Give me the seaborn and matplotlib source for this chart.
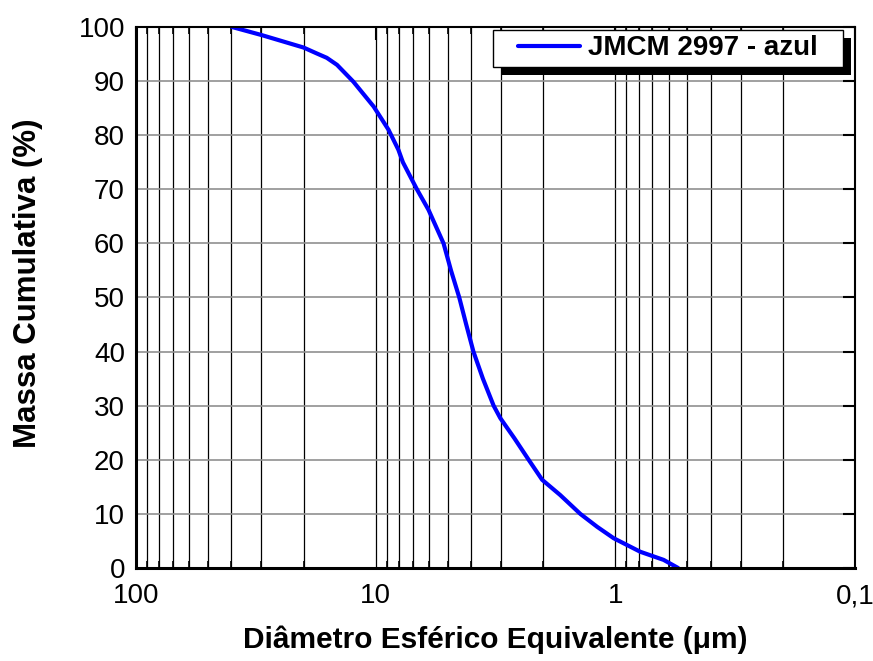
import matplotlib
matplotlib.use("Agg")
import matplotlib.pyplot as plt
import matplotlib.ticker as mticker
from matplotlib.patches import Rectangle
import seaborn as sns
import pandas as pd

# values
diametro = [39.8, 29.9, 20.0, 17.6, 16.0, 14.5, 12.4, 10.2, 8.84, 8.04, 7.70,
            6.73, 6.02, 5.21, 4.85, 4.48, 4.19, 3.91, 3.57, 3.22, 3.02, 2.64,
            2.30, 2.02, 1.70, 1.40, 1.19, 1.016, 0.787, 0.629, 0.547]
massa = [100.0, 98.5, 96.2, 95.1, 94.3, 93.0, 89.9, 85.3, 81.0, 77.3, 75.0,
         70.0, 66.2, 60.0, 55.0, 50.0, 45.0, 40.0, 35.0, 30.0, 27.7, 24.0,
         20.0, 16.3, 13.5, 10.0, 7.6, 5.5, 3.0, 1.5, 0.0]
serie = "JMCM 2997 - azul"
xticks = [100, 10, 1, 0.1]
xtick_labels = ["100", "10", "1", "0,1"]

df = pd.DataFrame({"d": diametro, "m": massa})

sns.set_style("white")
plt.rcParams["font.family"] = ["Liberation Sans", "DejaVu Sans"]
plt.rcParams["text.color"] = "black"
plt.rcParams["axes.labelcolor"] = "black"
plt.rcParams["xtick.color"] = "black"
plt.rcParams["ytick.color"] = "black"

fig = plt.figure(figsize=(8.73, 6.61), dpi=100)
ax = fig.add_axes([0.1558, 0.1407, 0.8236, 0.8185])

sns.lineplot(data=df, x="d", y="m", color="#0000ff", linewidth=3.0,
             label=serie, ax=ax, sort=False)
ax.lines[0].set_solid_joinstyle("round")

ax.set_xscale("log")
ax.set_xlim(100, 0.1)
ax.set_ylim(0, 100)
ax.set_xticks(xticks)
ax.set_xticklabels(xtick_labels)
ax.xaxis.set_minor_locator(mticker.LogLocator(base=10, subs=range(2, 10)))
ax.xaxis.set_minor_formatter(mticker.NullFormatter())
ax.set_yticks(range(0, 101, 10))

ax.grid(True, which="both", axis="x", color="black", linewidth=0.9)
ax.grid(True, which="major", axis="y", color="#909090", linewidth=1.2)
ax.set_axisbelow(True)

ax.tick_params(axis="both", which="major", direction="in", length=9, width=1.5,
               top=True, right=True, labelsize=20)
ax.tick_params(axis="y", which="major", pad=8)
ax.tick_params(axis="x", which="major", pad=11)
ax.tick_params(axis="x", which="minor", direction="in", length=5, width=1.2,
               top=True, bottom=True)

for side in ["left", "bottom"]:
    ax.spines[side].set_linewidth(2.2)
for side in ["top", "right"]:
    ax.spines[side].set_linewidth(1.5)
for sp in ax.spines.values():
    sp.set_color("black")
    sp.set_visible(True)

ax.set_xlabel("Diâmetro Esférico Equivalente (μm)", fontsize=21.5,
              fontweight="bold", labelpad=12)
ax.set_ylabel("Massa Cumulativa (%)", fontsize=22.5, fontweight="bold")
ax.yaxis.set_label_coords(-0.129, 0.527)

# legend box with a solid black drop shadow
ax.add_patch(Rectangle((0.5076, 0.9113), 0.4868, 0.0684, transform=ax.transAxes,
                       facecolor="black", edgecolor="none", zorder=5,
                       clip_on=False))
ax.add_patch(Rectangle((0.4965, 0.926), 0.4868, 0.0684, transform=ax.transAxes,
                       facecolor="white", edgecolor="black", linewidth=1.0,
                       zorder=6, clip_on=False))
leg = ax.legend(loc="center", bbox_to_anchor=(0.7399, 0.9603), frameon=False,
                prop={"weight": "bold", "size": 20}, handlelength=2.2,
                borderpad=0.1, handletextpad=0.3)
leg.set_zorder(7)

fig.savefig("out.png", dpi=100)
